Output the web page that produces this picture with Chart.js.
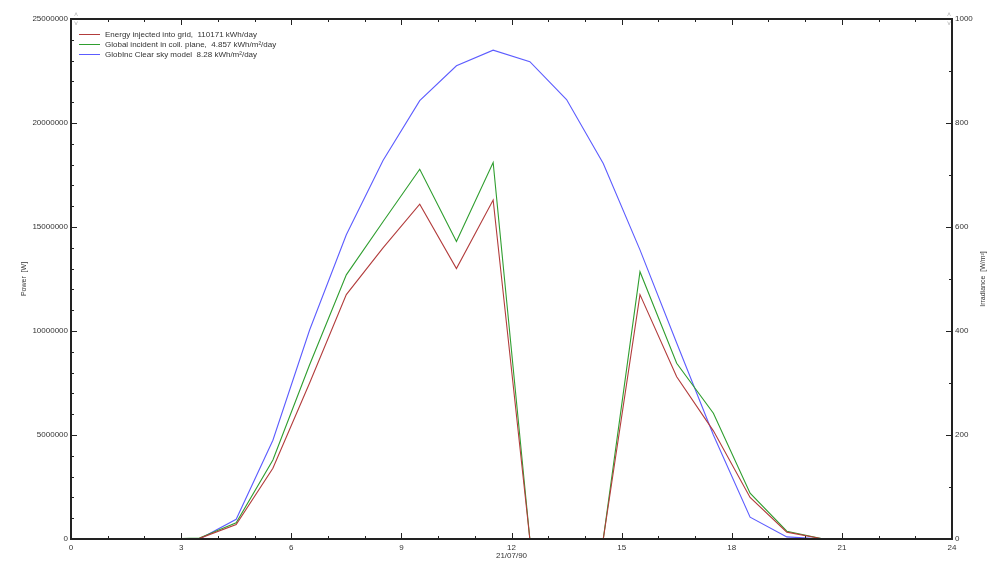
<!DOCTYPE html>
<html>
<head>
<meta charset="utf-8">
<script src="https://cdn.jsdelivr.net/npm/chart.js@4.4.1/dist/chart.umd.min.js"></script>
<style>
  html, body { margin: 0; padding: 0; background: #fff; }
  #wrap { width: 1000px; height: 566px; position: relative; }
</style>
</head>
<body>
<div id="wrap"><canvas id="dayChart"></canvas></div>
<script>
// hourly values, 21/07/90
const hours = [0.5, 1.5, 2.5, 3.5, 4.5, 5.5, 6.5, 7.5, 8.5, 9.5, 10.5, 11.5,
               12.5, 13.5, 14.5, 15.5, 16.5, 17.5, 18.5, 19.5, 20.5, 21.5, 22.5, 23.5];

// Energy injected into grid [W]
const energyGrid = [0, 0, 0, 30000, 700000, 3400000, 7500000, 11750000, 14000000, 16100000, 13000000, 16300000,
                    0, 0, 0, 11750000, 7800000, 5200000, 2000000, 330000, 0, 0, 0, 0];
// Global incident in coll. plane [W/m²]
const globalInc = [0, 0, 0, 2, 31, 152, 335, 508, 610, 711, 572, 724,
                   0, 0, 0, 514, 338, 242, 88, 15, 0, 0, 0, 0];
// GlobInc clear sky model [W/m²]
const clearSky = [0, 0, 0, 0, 38, 190, 402, 585, 728, 843, 910, 940,
                  918, 845, 722, 556, 377, 200, 42, 4, 0, 0, 0, 0];

const seriesLabels = [
    'Energy injected into grid,  110171 kWh/day',
    'Global incident in coll. plane,  4.857 kWh/m\u00b2/day',
    'GlobInc Clear sky model  8.28 kWh/m\u00b2/day'
];
const seriesColors = ['#b23c3c', '#2f9e2f', '#5c5cff'];

const FONT = 'Liberation Sans, Arial, sans-serif';

function pts(vals) {
    return hours.map((h, i) => ({ x: h, y: vals[i] }));
}

// box around the plot, inward tick marks, right title and the inner legend
const framePlugin = {
    id: 'frame',
    afterDraw(chart) {
        const { ctx, chartArea: a, scales } = chart;
        ctx.save();
        ctx.strokeStyle = '#222';
        ctx.lineWidth = 1;
        ctx.beginPath();
        for (let h = 0; h <= 24; h++) {
            const x = Math.round(scales.x.getPixelForValue(h)) + 0.5;
            const len = h % 3 === 0 ? 6 : 3;
            ctx.moveTo(x, a.bottom); ctx.lineTo(x, a.bottom - len);
            ctx.moveTo(x, a.top); ctx.lineTo(x, a.top + len);
        }
        for (let v = 0; v <= 25000000; v += 1000000) {
            const y = Math.round(scales.y.getPixelForValue(v)) + 0.5;
            const len = v % 5000000 === 0 ? 6 : 3;
            ctx.moveTo(a.left, y); ctx.lineTo(a.left + len, y);
        }
        for (let v = 0; v <= 1000; v += 100) {
            const y = Math.round(scales.y1.getPixelForValue(v)) + 0.5;
            const len = v % 200 === 0 ? 6 : 3;
            ctx.moveTo(a.right, y); ctx.lineTo(a.right - len, y);
        }
        ctx.stroke();

        ctx.lineWidth = 2;
        ctx.strokeRect(a.left, a.top, a.right - a.left, a.bottom - a.top);

        // little scroll arrows at the top corners
        ctx.fillStyle = '#b0b0b0';
        ctx.font = '7px ' + FONT;
        ctx.textAlign = 'center';
        ctx.textBaseline = 'middle';
        [a.left + 5, a.right - 3].forEach(x => {
            ctx.fillText('\u02c4', x, a.top - 4);
            ctx.fillText('\u02c5', x, a.top + 5);
        });

        // right axis title, read bottom to top like the left one
        ctx.fillStyle = '#333';
        ctx.save();
        ctx.translate(983, (a.top + a.bottom) / 2);
        ctx.rotate(-Math.PI / 2);
        ctx.fillText('Irradiance  [W/m\u00b2]', 0, 0);
        ctx.restore();

        // legend
        ctx.font = '8px ' + FONT;
        ctx.textAlign = 'left';
        ctx.fillStyle = '#333';
        chart.data.datasets.forEach((ds, i) => {
            const y = a.top + 15.5 + i * 10;
            ctx.strokeStyle = ds.borderColor;
            ctx.lineWidth = 1;
            ctx.beginPath();
            ctx.moveTo(a.left + 8, y); ctx.lineTo(a.left + 29, y);
            ctx.stroke();
            ctx.fillText(ds.label, a.left + 34, y);
        });
        ctx.restore();
    }
};

const tickFont = { family: FONT, size: 8 };

new Chart(document.getElementById('dayChart'), {
    type: 'line',
    data: {
        datasets: [
            { label: seriesLabels[0], data: pts(energyGrid), yAxisID: 'y', borderColor: seriesColors[0] },
            { label: seriesLabels[1], data: pts(globalInc), yAxisID: 'y1', borderColor: seriesColors[1] },
            { label: seriesLabels[2], data: pts(clearSky), yAxisID: 'y1', borderColor: seriesColors[2] }
        ]
    },
    options: {
        responsive: true,
        maintainAspectRatio: false,
        animation: false,
        parsing: false,
        elements: {
            line: { borderWidth: 1.1, tension: 0, fill: false },
            point: { radius: 0 }
        },
        layout: { padding: { top: 19, left: 0, right: 0, bottom: 0 } },
        plugins: {
            legend: { display: false },
            tooltip: { enabled: false }
        },
        scales: {
            x: {
                type: 'linear',
                min: 0, max: 24,
                grid: { display: false, drawTicks: false },
                border: { display: false },
                ticks: { stepSize: 3, padding: 4, color: '#333', font: tickFont, maxRotation: 0 },
                title: { display: true, text: '21/07/90', color: '#333', font: tickFont, padding: { top: 0, bottom: 5 } },
                afterFit(s) { s.height = 27; }
            },
            y: {
                position: 'left',
                min: 0, max: 25000000,
                grid: { display: false, drawTicks: false },
                border: { display: false },
                ticks: { stepSize: 5000000, padding: 3, color: '#333', font: tickFont, callback: v => String(v) },
                title: { display: true, text: 'Power  [W]', color: '#333', font: { family: FONT, size: 7 }, padding: { top: 20, bottom: 0 } },
                afterFit(s) { s.width = 71; }
            },
            y1: {
                position: 'right',
                min: 0, max: 1000,
                grid: { display: false, drawTicks: false },
                border: { display: false },
                ticks: { stepSize: 200, padding: 3, color: '#333', font: tickFont, callback: v => String(v) },
                afterFit(s) { s.width = 48; }
            }
        }
    },
    plugins: [framePlugin]
});
</script>
</body>
</html>
